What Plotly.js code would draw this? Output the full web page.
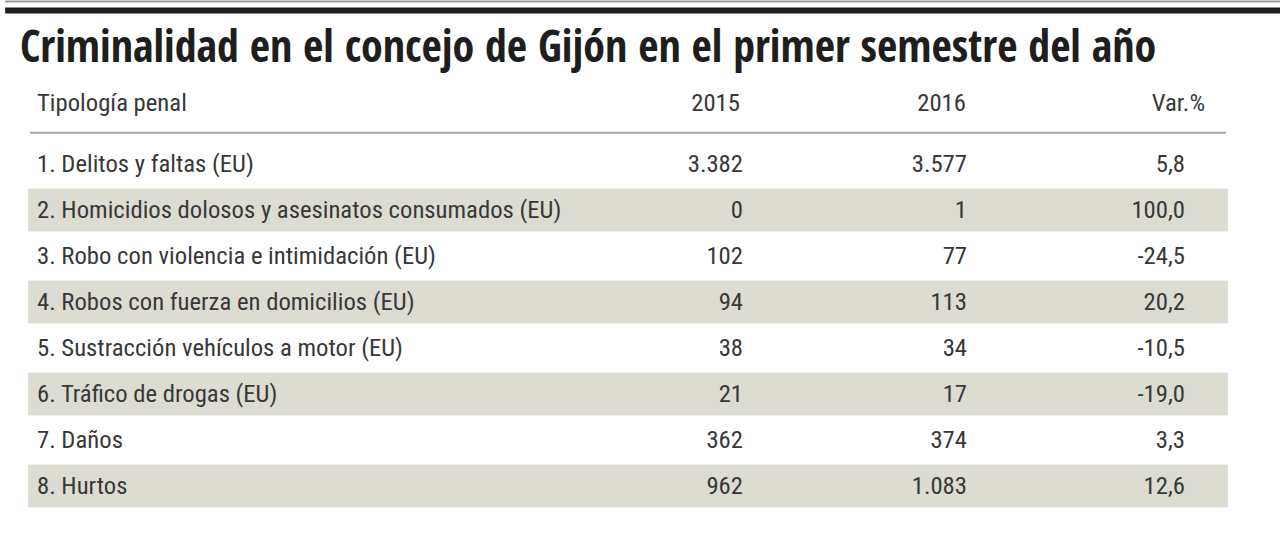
<!DOCTYPE html>
<html>
<head>
<meta charset="utf-8">
<script src="https://cdn.plot.ly/plotly-3.0.1.min.js"></script>
<style>html,body{margin:0;padding:0;background:#fff;}#chart{width:1280px;height:548px;}</style>
</head>
<body>
<div id="chart"></div>
<script>
// ---- data ----
const titleText = "Criminalidad en el concejo de Gijón en el primer semestre del año";
const headers = ["Tipología penal", "2015", "2016", "Var.%"];
const categories = [
  "1. Delitos y faltas (EU)",
  "2. Homicidios dolosos y asesinatos consumados (EU)",
  "3. Robo con violencia e intimidación (EU)",
  "4. Robos con fuerza en domicilios (EU)",
  "5. Sustracción vehículos a motor (EU)",
  "6. Tráfico de drogas (EU)",
  "7. Daños",
  "8. Hurtos"
];
const values2015 = [3382, 0, 102, 94, 38, 21, 362, 962];
const values2016 = [3577, 1, 77, 113, 34, 17, 374, 1083];
const variation = [5.8, 100.0, -24.5, 20.2, -10.5, -19.0, 3.3, 12.6];

// ---- helpers ----
function fmtInt(v){ return String(v).replace(/\B(?=(\d{3})+(?!\d))/g, "."); }
function fmtDec(v){ return v.toFixed(1).replace(".", ","); }

const rows = categories.map((_, i) => i + 1);
const textRows = rows.map(r => r + 0.05);
const textColor = "#383838";
const bodyFont = {family: "Roboto Condensed, sans-serif", size: 24.7, color: textColor, weight: 400};

// column anchors (x in a 0..1280 layout scale)
const colLabelX = 37, col2015X = 743, col2016X = 967, colVarX = 1185;
const headerRow = -0.28;

const traces = [
  {type:"scatter", mode:"text", x: rows.map(()=>colLabelX), y: textRows, text: categories,
   textposition:"middle right", textfont: bodyFont, hoverinfo:"skip", showlegend:false, cliponaxis:false},
  {type:"scatter", mode:"text", x: rows.map(()=>col2015X), y: textRows, text: values2015.map(fmtInt),
   textposition:"middle left", textfont: bodyFont, hoverinfo:"skip", showlegend:false, cliponaxis:false},
  {type:"scatter", mode:"text", x: rows.map(()=>col2016X), y: textRows, text: values2016.map(fmtInt),
   textposition:"middle left", textfont: bodyFont, hoverinfo:"skip", showlegend:false, cliponaxis:false},
  {type:"scatter", mode:"text", x: rows.map(()=>colVarX), y: textRows, text: variation.map(fmtDec),
   textposition:"middle left", textfont: bodyFont, hoverinfo:"skip", showlegend:false, cliponaxis:false},
  // header row
  {type:"scatter", mode:"text", x:[colLabelX], y:[headerRow], text:[headers[0]],
   textposition:"middle right", textfont: bodyFont, hoverinfo:"skip", showlegend:false, cliponaxis:false},
  {type:"scatter", mode:"text", x:[740, 966, 1205], y:[headerRow, headerRow, headerRow], text: headers.slice(1),
   textposition:"middle left", textfont: bodyFont, hoverinfo:"skip", showlegend:false, cliponaxis:false}
];

const shapes = [];
rows.forEach(r => {
  if (r % 2 === 0) {
    shapes.push({type:"rect", xref:"x", yref:"y", x0:28, x1:1228, y0:r-0.47, y1:r+0.47,
      fillcolor:"#dddcd3", line:{width:0}, layer:"below"});
  }
});
// header underline
shapes.push({type:"line", xref:"x", yref:"y", x0:30, x1:1226, y0:0.32, y1:0.32, line:{color:"#a9a9a9", width:2}});
// top rules
shapes.push({type:"line", xref:"paper", yref:"paper", x0:0.004, x1:1, y0:1-1.5/548, y1:1-1.5/548, line:{color:"#9a9a9a", width:2}});
shapes.push({type:"line", xref:"paper", yref:"paper", x0:0.004, x1:1, y0:1-10.5/548, y1:1-10.5/548, line:{color:"#1e1e1e", width:6}});

const layout = {
  width:1280, height:548,
  margin:{l:0, r:0, t:0, b:0},
  paper_bgcolor:"#ffffff", plot_bgcolor:"#ffffff",
  xaxis:{range:[0,1280], visible:false, fixedrange:true},
  yaxis:{range:[1 + 384/46, 1 - 164/46], visible:false, fixedrange:true},
  shapes: shapes,
  annotations:[{
    text: titleText, xref:"paper", yref:"paper", x: 18/1280, y: 1 - 45/548,
    xanchor:"left", yanchor:"middle", showarrow:false,
    font:{family:"Open Sans Condensed, sans-serif", size:44, color:"#1e1e1e", weight:"bold"}
  }],
  showlegend:false
};

Plotly.newPlot("chart", traces, layout, {displayModeBar:false, staticPlot:true});
</script>
</body>
</html>
